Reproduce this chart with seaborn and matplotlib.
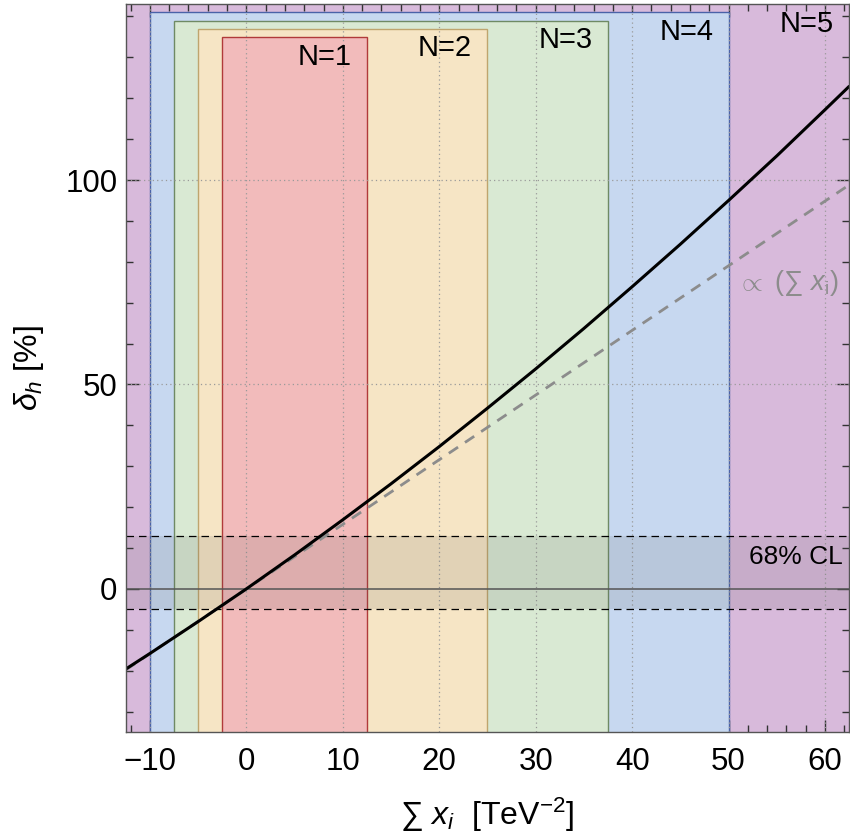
import numpy as np
import pandas as pd
import matplotlib
matplotlib.use("Agg")
import matplotlib.pyplot as plt
from matplotlib.patches import Rectangle
from matplotlib.ticker import MultipleLocator
import seaborn as sns

# regions allowed for N = 1..4 (N=5 fills the whole frame)
n_labels = ["N=1", "N=2", "N=3", "N=4", "N=5"]
band_lo = [-2.5, -5.0, -7.5, -10.0, -12.5]
band_hi = [12.5, 25.0, 37.5, 50.0, 62.5]
band_top = [135, 137, 139, 141, 143]
band_fill = ["#f2bbbb", "#f6e5c5", "#d9e9d3", "#c7d8f0", "#d8badb"]
band_edge = ["#b03a3a", "#bfa56e", "#6f8a64", "#4a62a8", "#8e6a92"]

# full result (black)
sum_x = [-12.5, -10, -5, 0, 5, 10, 15, 20, 25, 30, 35, 40, 45, 50, 55, 60, 62.5]
delta_h = [-19.6, -15.8, -8.0, 0.0, 8.3, 16.9, 25.7, 34.8, 44.2, 53.8, 63.7,
           73.9, 84.3, 95.0, 105.9, 117.2, 122.9]

# linear approximation (grey dashed)
lin_x = [-12.5, 62.5]
lin_y = [-19.8, 98.8]

# 68% CL band
cl_lo, cl_hi = -5.0, 13.0

df = pd.DataFrame({"x": sum_x, "y": delta_h})
df_lin = pd.DataFrame({"x": lin_x, "y": lin_y})

sns.set_style("ticks")
plt.rcParams["font.family"] = ["Liberation Sans", "DejaVu Sans"]
plt.rcParams["mathtext.fontset"] = "custom"
plt.rcParams["mathtext.rm"] = "Liberation Sans"
plt.rcParams["mathtext.it"] = "Liberation Sans:italic"
for k in ["text.color", "axes.labelcolor", "xtick.color", "ytick.color"]:
    plt.rcParams[k] = "black"

fig = plt.figure(figsize=(8.5, 8.38), dpi=100)
ax = fig.add_axes([0.148, 0.1265, 0.851, 0.8685])
ax.set_facecolor(band_fill[4])

# nested bands, widest first
for i in [3, 2, 1, 0]:
    ax.add_patch(Rectangle((band_lo[i], -60), band_hi[i] - band_lo[i],
                           band_top[i] + 60, facecolor=band_fill[i],
                           edgecolor=band_edge[i], lw=1.0, zorder=1))

for i in range(5):
    ax.text(band_hi[i] - 1.6, band_top[i] - 4.8, n_labels[i], ha="right",
            va="center", fontsize=21, zorder=5)

# dotted grid on top of the bands
for gx in range(-10, 61, 10):
    ax.axvline(gx, color="#9a9a9a", lw=0.9, ls=(0, (1, 2.5)), zorder=2)
for gy in [50, 100]:
    ax.axhline(gy, color="#9a9a9a", lw=0.9, ls=(0, (1, 2.5)), zorder=2)

ax.axhspan(cl_lo, cl_hi, color="#555555", alpha=0.13, lw=0, zorder=2)
ax.axhline(cl_hi, color="black", lw=0.9, ls=(0, (6, 4)), zorder=3)
ax.axhline(cl_lo, color="black", lw=0.9, ls=(0, (6, 4)), zorder=3)
ax.axhline(0, color="#555555", lw=1.1, zorder=3)
ax.text(61.8, 7.8, "68% CL", ha="right", va="center", fontsize=19, zorder=5)

sns.lineplot(data=df_lin, x="x", y="y", ax=ax, color="#8c8c8c", lw=2.0,
             zorder=4)
ax.lines[-1].set_dashes((4, 3))
sns.lineplot(data=df, x="x", y="y", ax=ax, color="black", lw=2.2, zorder=4)
ax.text(50.9, 74.8, "$\\propto$ (∑ $x_\\mathrm{i}$)", color="#8c8c8c",
        ha="left", va="center", fontsize=19.5, zorder=5)

ax.set_xlim(-12.5, 62.5)
ax.set_ylim(-35, 143)
ax.xaxis.set_major_locator(MultipleLocator(10))
ax.xaxis.set_minor_locator(MultipleLocator(2))
ax.yaxis.set_major_locator(MultipleLocator(50))
ax.yaxis.set_minor_locator(MultipleLocator(10))
ax.tick_params(which="both", direction="in", top=True, right=True,
               labelsize=22.5, width=1.0, color="#333333")
ax.tick_params(which="major", length=9)
ax.tick_params(axis="x", which="major", pad=11)
ax.tick_params(axis="y", which="major", pad=6)
ax.tick_params(which="minor", length=5)
for s in ax.spines.values():
    s.set_color("#555555")
    s.set_linewidth(1.0)
    s.set_zorder(6)

ax.set_xlabel("∑ $x_i$  [TeV$^{-2}$]", fontsize=23, labelpad=13)
ax.set_ylabel("$\\delta_h$ [%]", fontsize=23, labelpad=14)

fig.savefig("out.png", dpi=100)
